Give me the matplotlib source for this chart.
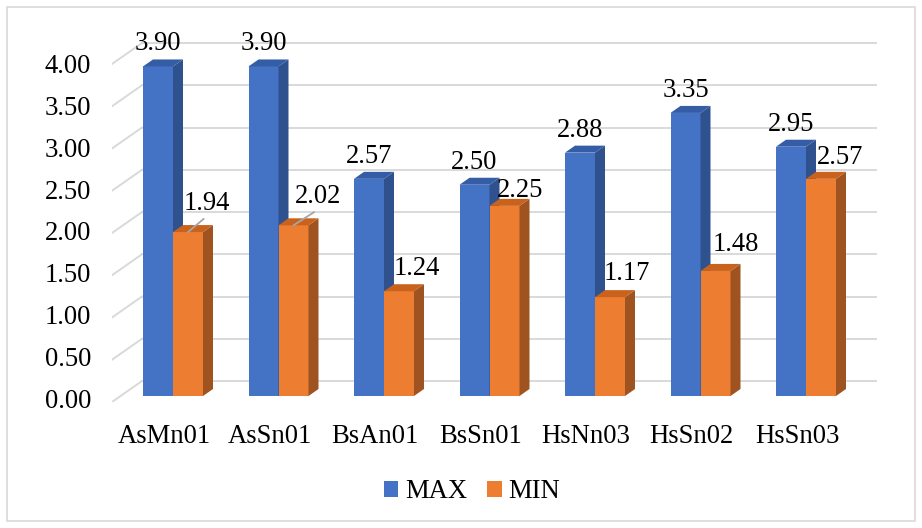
import matplotlib.pyplot as plt
from matplotlib.patches import Polygon, Rectangle, Patch

plt.rcParams['font.family'] = ['Liberation Serif', 'DejaVu Serif']

categories = ['AsMn01', 'AsSn01', 'BsAn01', 'BsSn01', 'HsNn03', 'HsSn02', 'HsSn03']
max_vals = [3.90, 3.90, 2.57, 2.50, 2.88, 3.35, 2.95]
min_vals = [1.94, 2.02, 1.24, 2.25, 1.17, 1.48, 2.57]
y_ticks = [0.0, 0.5, 1.0, 1.5, 2.0, 2.5, 3.0, 3.5, 4.0]

# MIN label offsets in pixels (right, up) from the bar's top front edge
min_label_shift = [(19, 22), (25, 22), (18, 16), (16, 9), (17, 17), (20, 20), (19, 15)]
min_leader = [True, True, False, False, False, False, False]

W, H, DPI = 922, 528, 100
FS = 19.2
fig = plt.figure(figsize=(W / DPI, H / DPI), dpi=DPI)

# pixel geometry of the plot area
px_cat0, px_step = 173.0, 105.5     # blue/orange boundary of first group, group spacing
px_y0, px_unit = 396.0, 84.5        # bar floor, pixels per unit
left_px, right_px, bot_px, top_px = 112, 877, 402, 30

ax = fig.add_axes([left_px / W, 1 - bot_px / H, (right_px - left_px) / W, (bot_px - top_px) / H])
ax.set_xlim((left_px - px_cat0) / px_step, (right_px - px_cat0) / px_step)
ax.set_ylim((px_y0 - bot_px) / px_unit, (px_y0 - top_px) / px_unit)
ax.axis('off')

sx = 1.0 / px_step   # data units per pixel, x
sy = 1.0 / px_unit   # data units per pixel, y

# walls: back gridlines and left-wall diagonals
grid_c = '#D9D9D9'
for v in y_ticks:
    yb = v + 15 * sy
    ax.plot([(142 - px_cat0) * sx, (right_px - px_cat0) * sx], [yb, yb], color=grid_c, lw=1.4, zorder=1)
    ax.plot([(112 - px_cat0) * sx, (142 - px_cat0) * sx], [v - 6 * sy, yb], color=grid_c, lw=1.4, zorder=1)

bw = 30 * sx
ddx, ddy = 10 * sx, 7 * sy

def bar3d(x0, h, front, side, top, z):
    ax.bar(x0, h, width=bw, align='edge', color=front, zorder=z, linewidth=0)
    x1 = x0 + bw
    ax.add_patch(Polygon([(x1, 0), (x1, h), (x1 + ddx, h + ddy), (x1 + ddx, ddy)],
                         closed=True, facecolor=side, edgecolor='none', zorder=z))
    ax.add_patch(Polygon([(x0, h), (x1, h), (x1 + ddx, h + ddy), (x0 + ddx, h + ddy)],
                         closed=True, facecolor=top, edgecolor='none', zorder=z))

blue, blue_side, blue_top = '#4472C4', '#2F528F', '#345DA6'
orange, orange_side, orange_top = '#ED7D31', '#9E5320', '#C8621D'

lab_kw = dict(fontsize=FS, ha='center', va='baseline', textcoords='offset pixels',
              annotation_clip=False)

for i in range(len(categories)):
    bar3d(i - bw, max_vals[i], blue, blue_side, blue_top, 3 + 2 * i)
    bar3d(i, min_vals[i], orange, orange_side, orange_top, 4 + 2 * i)

    ax.annotate(f'{max_vals[i]:.2f}', xy=(i - bw / 2, max_vals[i]),
                xytext=(0, 16), zorder=20, **lab_kw)

    arrow = None
    if min_leader[i]:
        # label pulled away from the bar, joined back with a thin line
        arrow = dict(arrowstyle='-', color='#A6A6A6', lw=1.3, relpos=(0.5, 0.0),
                     shrinkA=0, shrinkB=0)
    ax.annotate(f'{min_vals[i]:.2f}', xy=(i + bw / 2, min_vals[i]),
                xytext=min_label_shift[i], arrowprops=arrow, zorder=20, **lab_kw)

# axis tick labels
for v in y_ticks:
    ax.text((91 - px_cat0) * sx, (px_y0 - 408 + 83.75 * v) * sy, f'{v:.2f}',
            fontsize=FS, ha='right', va='baseline')
for i, c in enumerate(categories):
    ax.text(i - 9 * sx, (px_y0 - 443) * sy, c, fontsize=FS, ha='center', va='baseline')

handles = [Patch(facecolor=blue, label='MAX'), Patch(facecolor=orange, label='MIN')]
fig.legend(handles=handles, loc='center', bbox_to_anchor=(472 / W, 1 - 492 / H), ncol=2,
           frameon=False, fontsize=FS, handlelength=0.55, handleheight=0.55,
           handletextpad=0.25, columnspacing=0.75)

# chart border
fig.add_artist(Rectangle((7 / W, 7 / H), (915 - 7) / W, (521 - 7) / H, transform=fig.transFigure,
                         fill=False, edgecolor='#D9D9D9', lw=1.2))

fig.savefig('out.png', dpi=DPI)
